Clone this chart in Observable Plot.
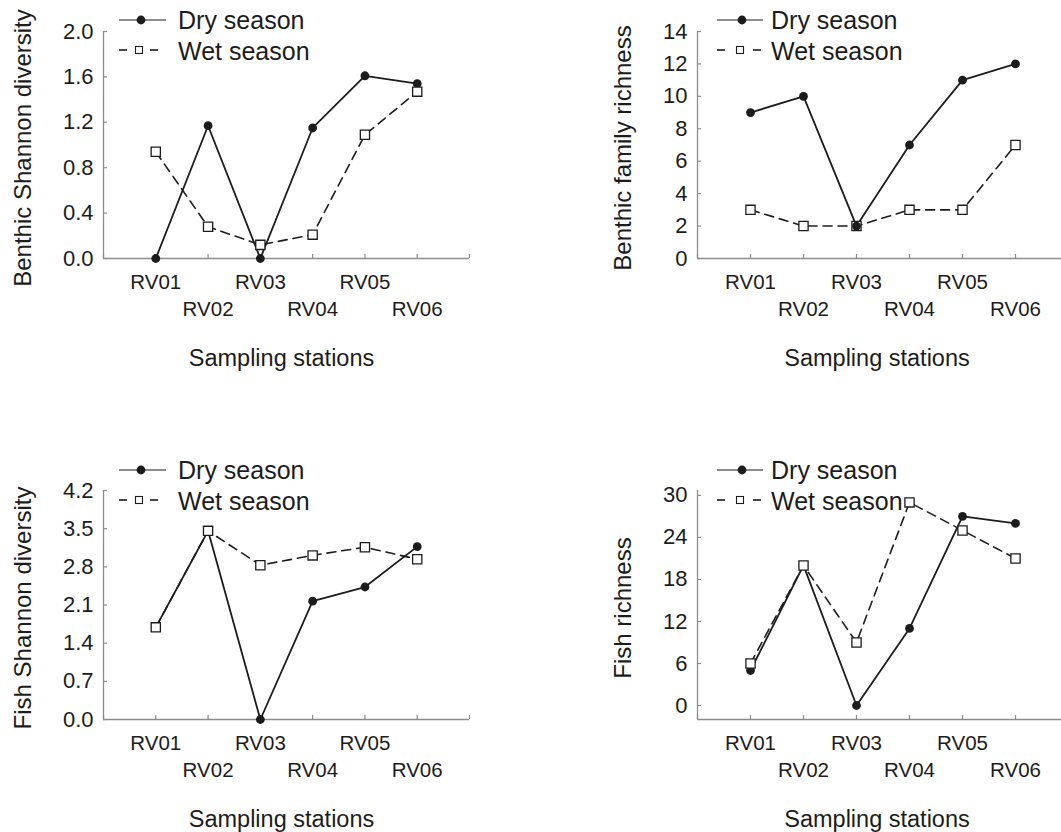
<!DOCTYPE html>
<html><head><meta charset="utf-8">
<script src="https://cdn.jsdelivr.net/npm/d3@7"></script>
<script src="https://cdn.jsdelivr.net/npm/@observablehq/plot@0.6"></script>
<style>
body{margin:0;background:#fff;}
#root{position:relative;width:1061px;height:832px;overflow:hidden;background:#fff;font-family:"Liberation Sans",Arial,sans-serif;}
.panel{position:absolute;}
.panel svg{max-width:none !important;}
</style></head><body><div id="root"></div>
<script>
// ---- data ----
const stations = ["RV01", "RV02", "RV03", "RV04", "RV05", "RV06"];
const seasons = ["Dry season", "Wet season"];
const xTitle = "Sampling stations";

const benthicShannonDry = [0, 1.17, 0, 1.15, 1.61, 1.54];
const benthicShannonWet = [0.94, 0.28, 0.12, 0.21, 1.09, 1.47];
const benthicRichnessDry = [9, 10, 2, 7, 11, 12];
const benthicRichnessWet = [3, 2, 2, 3, 3, 7];
const fishShannonDry = [1.69, 3.46, 0, 2.17, 2.43, 3.17];
const fishShannonWet = [1.69, 3.46, 2.83, 3.01, 3.16, 2.94];
const fishRichnessDry = [5, 20, 0, 11, 27, 26];
const fishRichnessWet = [6, 20, 9, 29, 25, 21];

const benthicShannonTicks = [0, 0.4, 0.8, 1.2, 1.6, 2.0];
const benthicRichnessTicks = [0, 2, 4, 6, 8, 10, 12, 14];
const fishShannonTicks = [0, 0.7, 1.4, 2.1, 2.8, 3.5, 4.2];
const fishRichnessTicks = [0, 6, 12, 18, 24, 30];
const xTickValues = [0, 1, 2, 3, 4, 5, 6, 7];

// ---- layout ----
const ink = "#1c1c1c";
const axisColor = "#8c8c8c";
const fmt1 = d3.format(".1f");
const fmt0 = d3.format("d");

const panels = [
  {label: "Benthic Shannon diversity", dry: benthicShannonDry, wet: benthicShannonWet, yDomain: [0, 2], yTicks: benthicShannonTicks, fmt: fmt1, row: 0, col: 0, dotsOnTop: false},
  {label: "Benthic family richness", dry: benthicRichnessDry, wet: benthicRichnessWet, yDomain: [0, 14], yTicks: benthicRichnessTicks, fmt: fmt0, row: 0, col: 1, dotsOnTop: true},
  {label: "Fish Shannon diversity", dry: fishShannonDry, wet: fishShannonWet, yDomain: [0, 4.2], yTicks: fishShannonTicks, fmt: fmt1, row: 1, col: 0, dotsOnTop: false},
  {label: "Fish richness", dry: fishRichnessDry, wet: fishRichnessWet, yDomain: [-2, 30.7], yTicks: fishRichnessTicks, fmt: fmt0, row: 1, col: 1, dotsOnTop: false}
];

function legendMark(col) {
  const L = col === 0 ? {l1: 119, l2: 166, m: 141, t: 178, d1: 119, d2: 127, s: 139, e1: 150, e2: 158}
                      : {l1: 137, l2: 183, m: 162, t: 191, d1: 137, d2: 145, s: 160, e1: 173, e2: 181};
  return () => {
    const g = d3.create("svg:g");
    g.append("line").attr("x1", L.l1).attr("x2", L.l2).attr("y1", 20).attr("y2", 20)
      .attr("stroke", ink).attr("stroke-width", 1.2);
    g.append("circle").attr("cx", L.m).attr("cy", 20).attr("r", 4.4).attr("fill", ink);
    g.append("text").attr("x", L.t).attr("y", 20).attr("dy", "0.35em").attr("text-anchor", "start")
      .attr("font-size", 25).attr("fill", ink).text(seasons[0]);
    g.append("line").attr("x1", L.d1).attr("x2", L.d2).attr("y1", 50).attr("y2", 50)
      .attr("stroke", ink).attr("stroke-width", 1.6);
    g.append("line").attr("x1", L.e1).attr("x2", L.e2).attr("y1", 50).attr("y2", 50)
      .attr("stroke", ink).attr("stroke-width", 1.6);
    g.append("rect").attr("x", L.s - 3.5).attr("y", 46.5).attr("width", 7).attr("height", 7)
      .attr("fill", "white").attr("stroke", ink).attr("stroke-width", 1.1);
    g.append("text").attr("x", L.t).attr("y", 51).attr("dy", "0.35em").attr("text-anchor", "start")
      .attr("font-size", 25).attr("fill", ink).text(seasons[1]);
    return g.node();
  };
}

function makePanel(p) {
  const top = p.row === 0;
  const width = p.col === 0 ? 481 : 490;
  const height = top ? 400 : 382;
  const marginLeft = p.col === 0 ? 103 : 117;
  const marginRight = p.col === 0 ? 12 : 2;
  const marginTop = top ? 31 : 40;
  const marginBottom = top ? 142 : 113;
  const rows = stations.map((s, i) => ({station: s, idx: i + 1, dry: p.dry[i], wet: p.wet[i]}));
  const y0 = p.yDomain[0];

  const dryLine = Plot.line(rows, {x: "idx", y: "dry", stroke: ink, strokeWidth: 1.8});
  const wetLine = Plot.line(rows, {x: "idx", y: "wet", stroke: ink, strokeWidth: 1.6, strokeDasharray: "9,6"});
  const dots = Plot.dot(rows, {x: "idx", y: "dry", r: 4.4, fill: ink, stroke: "none"});
  const squares = Plot.dot(rows, {x: "idx", y: "wet", symbol: "square", r: 5.2, fill: "white", stroke: ink, strokeWidth: 1.3});

  const marks = [
    Plot.ruleY([y0], {stroke: axisColor, strokeWidth: 1.3}),
    Plot.ruleX([0], {stroke: axisColor, strokeWidth: 1.3}),
    Plot.ruleX(xTickValues, {x: d => d, y1: y0, y2: y0, insetTop: -4, stroke: axisColor, strokeWidth: 1.2}),
    Plot.ruleY(p.yTicks, {y: d => d, x1: 0, x2: 0, insetRight: -4, stroke: axisColor, strokeWidth: 1.2}),
    Plot.axisY({ticks: p.yTicks, tickFormat: p.fmt, tickSize: 0, tickPadding: 10, fontSize: 22, label: null, fill: ink}),
    Plot.text(rows.filter(d => d.idx % 2 === 1), {x: "idx", text: "station", frameAnchor: "bottom", dy: 24, lineAnchor: "middle", fontSize: 20.5, fill: ink}),
    Plot.text(rows.filter(d => d.idx % 2 === 0), {x: "idx", text: "station", frameAnchor: "bottom", dy: 51, lineAnchor: "middle", fontSize: 20.5, fill: ink}),
    Plot.text([xTitle], {frameAnchor: "bottom", dx: p.col === 0 ? -5 : -6, dy: 100, lineAnchor: "middle", fontSize: 23.5, fill: ink}),
    Plot.text([p.label], {frameAnchor: "left", rotate: -90, textAnchor: "middle", lineAnchor: "middle", dx: p.col === 0 ? -80 : -74, dy: 3, fontSize: 24, fill: ink}),
    dryLine, wetLine,
    ...(p.dotsOnTop ? [squares, dots] : [dots, squares]),
    legendMark(p.col)
  ];

  return Plot.plot({
    width, height, marginLeft, marginRight, marginTop, marginBottom,
    x: {domain: [0, 7], axis: null},
    y: {domain: p.yDomain},
    style: {fontFamily: "'Liberation Sans', Arial, sans-serif", color: ink, background: "white", overflow: "visible", maxWidth: "none"},
    marks
  });
}

const root = document.getElementById("root");
for (const p of panels) {
  const div = document.createElement("div");
  div.className = "panel";
  div.style.left = (p.col === 0 ? 0 : 580) + "px";
  div.style.top = (p.row === 0 ? 0 : 450) + "px";
  div.style.width = (p.col === 0 ? 481 : 490) + "px";
  div.appendChild(makePanel(p));
  root.appendChild(div);
}
</script>
</body></html>
